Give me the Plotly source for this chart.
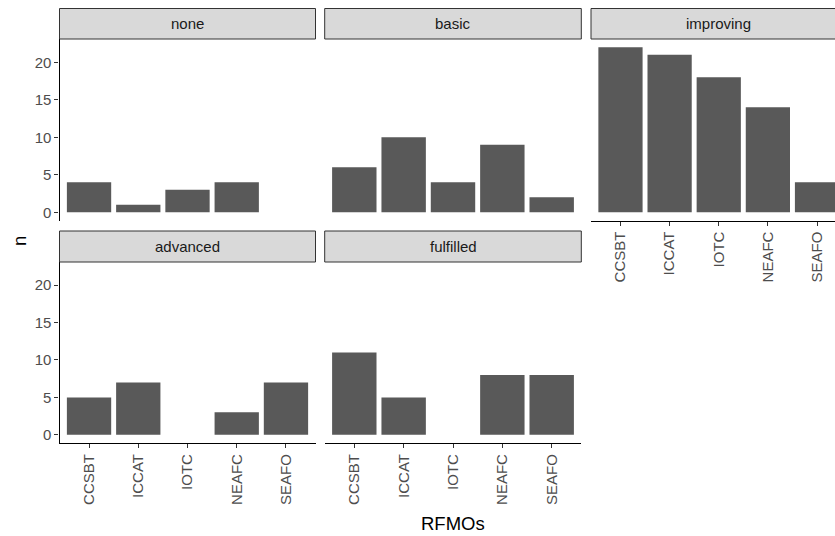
import plotly.graph_objects as go

rfmos = ["CCSBT", "ICCAT", "IOTC", "NEAFC", "SEAFO"]
facets = ["none", "basic", "improving", "advanced", "fulfilled"]
n_none = [4, 1, 3, 4, 0]
n_basic = [6, 10, 4, 9, 2]
n_improving = [22, 21, 18, 14, 4]
n_advanced = [5, 7, 0, 3, 7]
n_fulfilled = [11, 5, 0, 8, 8]
values = [n_none, n_basic, n_improving, n_advanced, n_fulfilled]
y_ticks = [0, 5, 10, 15, 20]

W, H = 835, 536
col_px = [(59.5, 315.5), (324.7, 581.3), (591.0, 846.5)]
row_px = [(39.0, 220.5), (262.0, 443.0)]
strip_px = [(8.5, 39.0), (231.0, 262.0)]
positions = [(0, 0), (0, 1), (0, 2), (1, 0), (1, 1)]

FONT = "Liberation Sans, Arial, sans-serif"
fig = go.Figure()
layout = dict(width=W, height=H, margin=dict(l=0, r=0, t=0, b=0),
              plot_bgcolor="white", paper_bgcolor="white", showlegend=False,
              bargap=0.1, font=dict(family=FONT))
shapes, annotations = [], []

for i, (fac, vals) in enumerate(zip(facets, values)):
    r, c = positions[i]
    sfx = "" if i == 0 else str(i + 1)
    fig.add_trace(go.Bar(x=rfmos, y=vals, xaxis="x" + sfx, yaxis="y" + sfx,
                         marker=dict(color="#595959", line=dict(width=0)),
                         width=0.9, hoverinfo="x+y"))
    x0, x1 = col_px[c]
    y0, y1 = row_px[r]
    xmax = -0.6 + 5.2 * (min(x1, W) - x0) / (x1 - x0)
    bottom_axis = (r == 1) or (c == 2)
    left_axis = (c == 0)
    layout["xaxis" + sfx] = dict(
        domain=[x0 / W, min(x1, W) / W], anchor="y" + sfx,
        type="category", categoryorder="array", categoryarray=rfmos,
        range=[-0.6, xmax], showgrid=False, zeroline=False,
        showline=bottom_axis, linecolor="black", linewidth=1.1,
        ticks="outside" if bottom_axis else "", ticklen=4, tickwidth=1.1,
        tickcolor="#333333", showticklabels=bottom_axis, tickangle=-90,
        tickfont=dict(size=15, color="#4D4D4D", family=FONT))
    layout["yaxis" + sfx] = dict(
        domain=[1 - y1 / H, 1 - y0 / H], anchor="x" + sfx,
        range=[-1.1, 23.1], tickvals=y_ticks, showgrid=False, zeroline=False,
        showline=left_axis, linecolor="black", linewidth=1.1,
        ticks="outside" if left_axis else "", ticklen=4, tickwidth=1.1,
        tickcolor="#333333", showticklabels=left_axis,
        tickfont=dict(size=15, color="#4D4D4D", family=FONT))
    s0, s1 = strip_px[r]
    shapes.append(dict(type="rect", xref="paper", yref="paper",
                       x0=x0 / W, x1=x1 / W, y0=1 - s1 / H, y1=1 - s0 / H,
                       fillcolor="#D9D9D9", line=dict(color="#333333", width=1)))
    annotations.append(dict(text=fac, xref="paper", yref="paper",
                            x=(x0 + x1) / 2 / W, y=1 - (s0 + s1) / 2 / H,
                            showarrow=False, xanchor="center", yanchor="middle",
                            font=dict(size=15, color="#1A1A1A", family=FONT)))

annotations.append(dict(text="n", xref="paper", yref="paper", x=19 / W, y=1 - 241 / H,
                        textangle=-90, showarrow=False, xanchor="center", yanchor="middle",
                        font=dict(size=18.5, color="black", family=FONT)))
annotations.append(dict(text="RFMOs", xref="paper", yref="paper", x=453 / W, y=1 - 523 / H,
                        showarrow=False, xanchor="center", yanchor="middle",
                        font=dict(size=18.5, color="black", family=FONT)))
layout["shapes"] = shapes
layout["annotations"] = annotations
fig.update_layout(**layout)
fig.write_html("out.html", config={"displayModeBar": False},
               post_script="document.body.style.margin='0';document.body.style.overflow='hidden';")
